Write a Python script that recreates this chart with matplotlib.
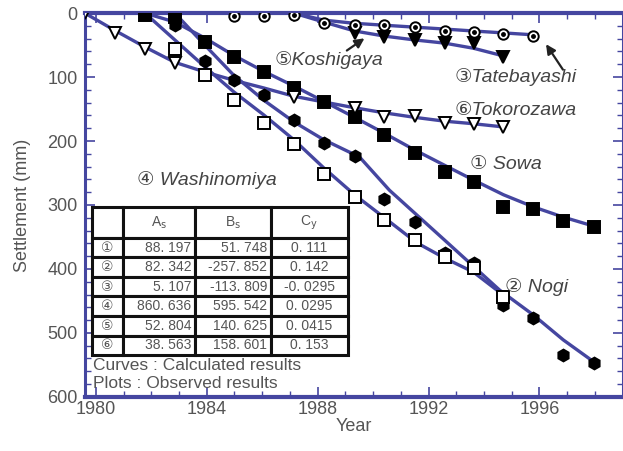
import numpy as np
import matplotlib.pyplot as plt
from matplotlib.ticker import MultipleLocator
from matplotlib.table import Table

plt.rcParams['font.family'] = ['Liberation Sans', 'DejaVu Sans']

BLUE = '#4546a0'
GREY = '#555555'

# ---- observed settlement (plots) ----
sowa_year = [1981.77, 1982.85, 1983.93, 1984.97, 1986.05, 1987.14, 1988.22, 1989.33,
             1990.41, 1991.50, 1992.58, 1993.62, 1994.70, 1995.78, 1996.86, 1997.95]
sowa_obs = [3, 6, 45, 69, 92, 117, 139, 163, 191, 219, 248, 264, 303, 306, 325, 334]

nogi_year = [1982.85, 1983.93, 1984.97, 1986.05, 1987.14, 1988.22, 1989.33, 1990.41,
             1991.50, 1992.58, 1993.62, 1994.70, 1995.78, 1996.86, 1997.95]
nogi_obs = [19, 75, 105, 128, 167, 203, 223, 291, 327, 375, 391, 456, 477, 534, 547]

tate_year = [1984.97, 1986.05, 1987.14, 1988.22, 1989.33, 1990.41, 1991.50, 1992.58,
             1993.62, 1994.70, 1995.78]
tate_obs = [5, 5, 3, 16, 19, 19, 22, 28, 30, 33, 36]

washi_year = [1982.85, 1983.93, 1984.97, 1986.05, 1987.14, 1988.22, 1989.33, 1990.41,
              1991.50, 1992.58, 1993.62, 1994.70]
washi_obs = [56, 97, 136, 172, 205, 252, 288, 323, 355, 381, 398, 444]

koshi_year = [1987.14, 1989.33, 1990.41, 1991.50, 1992.58, 1993.62, 1994.70]
koshi_obs = [3, 31, 38, 42, 47, 47, 69]

toko_year = [1979.60, 1980.68, 1981.77, 1982.85, 1987.14, 1989.33, 1990.41, 1991.50,
             1992.58, 1993.62, 1994.70]
toko_obs = [0, 31, 56, 78, 131, 148, 163, 161, 172, 173, 178]

# ---- calculated settlement (curves) ----
sowa_cy = [1979.60, 1981.77, 1982.85, 1983.93, 1984.97, 1986.05, 1987.14, 1988.22, 1989.33,
           1990.41, 1991.50, 1992.58, 1993.62, 1994.70, 1995.78, 1996.86, 1997.95]
sowa_calc = [0, 0, 14, 39, 66, 91, 114, 138, 163, 188, 214, 238, 261, 284, 303, 319, 333]

nogi_cy = [1979.60, 1982.85, 1983.93, 1984.97, 1986.05, 1987.14, 1988.22, 1989.51, 1990.59,
           1992.58, 1994.56, 1995.78, 1996.86, 1997.95]
nogi_calc = [0, 0, 50, 97, 136, 170, 198, 225, 277, 355, 433, 472, 511, 545]

washi_cy = [1979.60, 1981.77, 1982.85, 1983.93, 1984.97, 1986.05, 1987.14, 1988.22, 1989.33,
            1990.41, 1991.57, 1992.58, 1993.62, 1994.70]
washi_calc = [0, 0, 42, 84, 123, 159, 198, 242, 284, 320, 359, 383, 405, 441]

toko_cy = [1979.60, 1980.68, 1981.77, 1982.85, 1983.93, 1984.97, 1986.05, 1987.14, 1988.22,
           1989.33, 1990.41, 1991.50, 1992.58, 1993.62, 1994.70]
toko_calc = [0, 27, 53, 77, 92, 105, 117, 130, 139, 148, 156, 163, 169, 173, 178]

tate_cy = [1979.60, 1987.14, 1988.22, 1989.33, 1990.41, 1991.50, 1992.58, 1993.62, 1994.70, 1995.78]
tate_calc = [0, 0, 11, 16, 19, 22, 25, 28, 31, 34]

koshi_cy = [1979.60, 1987.14, 1988.22, 1989.33, 1990.41, 1991.50, 1992.58, 1993.62, 1994.70]
koshi_calc = [0, 0, 14, 28, 36, 42, 47, 55, 67]

# fitted coefficients
site_marks = ['①', '②', '③', '④', '⑤', '⑥']
coef_a = ['88. 197', '82. 342', '5. 107', '860. 636', '52. 804', '38. 563']
coef_b = ['51. 748', '-257. 852', '-113. 809', '595. 542', '140. 625', '158. 601']
coef_c = ['0. 111', '0. 142', '-0. 0295', '0. 0295', '0. 0415', '0. 153']

fig = plt.figure(figsize=(6.23, 4.51), dpi=100)
ax = fig.add_axes([0.136, 0.12, 0.8635, 0.851])

for xs, ys in [(sowa_cy, sowa_calc), (nogi_cy, nogi_calc), (washi_cy, washi_calc),
               (toko_cy, toko_calc), (tate_cy, tate_calc), (koshi_cy, koshi_calc)]:
    ax.plot(xs, ys, color=BLUE, lw=2.4, solid_capstyle='round', zorder=2)

mk = dict(linestyle='none', markeredgecolor='black', markeredgewidth=1.4, zorder=4)
ax.plot(sowa_year, sowa_obs, marker='s', ms=8, markerfacecolor='black', **mk)
ax.plot(nogi_year, nogi_obs, marker='h', ms=8.5, markerfacecolor='black', **mk)
ax.plot(washi_year, washi_obs, marker='s', ms=8, markerfacecolor='white', **mk)
ax.plot(toko_year, toko_obs, marker='v', ms=8.5, markerfacecolor='white', **mk)
ax.plot(koshi_year, koshi_obs, marker='v', ms=8.5, markerfacecolor='black', **mk)
ax.plot(tate_year, tate_obs, marker='o', ms=7.5, markerfacecolor='white', **mk)
ax.plot(tate_year, tate_obs, marker='o', ms=2.5, linestyle='none', color='black', zorder=5)

ax.set_xlim(1979.6, 1999.0)
ax.set_ylim(600, 0)
ax.set_xticks([1980, 1984, 1988, 1992, 1996])
ax.xaxis.set_minor_locator(MultipleLocator(1))
ax.yaxis.set_major_locator(MultipleLocator(100))
ax.yaxis.set_minor_locator(MultipleLocator(20))
ax.tick_params(which='both', direction='in', top=True, right=True, color=BLUE,
               labelcolor=GREY, labelsize=13)
ax.tick_params(which='major', length=7, width=1.2)
ax.tick_params(which='minor', length=4, width=1.0)
ax.tick_params(axis='x', pad=3)
ax.tick_params(axis='y', pad=5)

for side, lw in [('top', 3.0), ('bottom', 3.0), ('left', 2.2), ('right', 2.2)]:
    ax.spines[side].set_color(BLUE)
    ax.spines[side].set_linewidth(lw)

ax.set_xlabel('Year', fontsize=13, color=GREY, labelpad=0)
ax.set_ylabel('Settlement (mm)', fontsize=13, color=GREY, labelpad=12)

lab = dict(fontsize=14, style='italic', color='#444444', va='center', zorder=6)
ax.text(1986.45, 73, '⑤Koshigaya', **lab)
ax.text(1992.94, 100, '③Tatebayashi', **lab)
ax.text(1992.94, 152, '⑥Tokorozawa', **lab)
ax.text(1993.48, 237, '① Sowa', **lab)
ax.text(1981.48, 261, '④ Washinomiya', **lab)
ax.text(1994.74, 428, '② Nogi', **lab)

arrow = dict(arrowstyle='-|>', color='#222222', lw=1.6, mutation_scale=14)
ax.annotate('', xy=(1989.77, 37), xytext=(1988.97, 61), arrowprops=arrow)
ax.annotate('', xy=(1996.18, 45), xytext=(1996.9, 92), arrowprops=arrow)

# coefficient table
tb = Table(ax, bbox=[0.013, 0.109, 0.476, 0.386])
widths = [31, 72, 76, 77]
header = ['', r'A$_\mathrm{s}$', r'B$_\mathrm{s}$', r'C$_\mathrm{y}$']
for c, t in enumerate(header):
    tb.add_cell(0, c, widths[c], 31, text=t, loc='center', facecolor='white')
for r in range(6):
    row = [site_marks[r], coef_a[r], coef_b[r], coef_c[r]]
    locs = ['center', 'right', 'right', 'center']
    for c, t in enumerate(row):
        tb.add_cell(r + 1, c, widths[c], 19.5, text=t, loc=locs[c], facecolor='white')
for cell in tb.get_celld().values():
    cell.set_linewidth(2.2)
    cell.set_edgecolor('#111111')
    cell.PAD = 0.05
    cell.get_text().set_color(GREY)
tb.auto_set_font_size(False)
tb.set_fontsize(10)
tb.set_zorder(7)
ax.add_table(tb)

ax.text(0.015, 0.083, 'Curves : Calculated results', transform=ax.transAxes,
        fontsize=12.5, color=GREY, va='center')
ax.text(0.015, 0.035, 'Plots : Observed results', transform=ax.transAxes,
        fontsize=12.5, color=GREY, va='center')

fig.savefig('out.png', dpi=100)
